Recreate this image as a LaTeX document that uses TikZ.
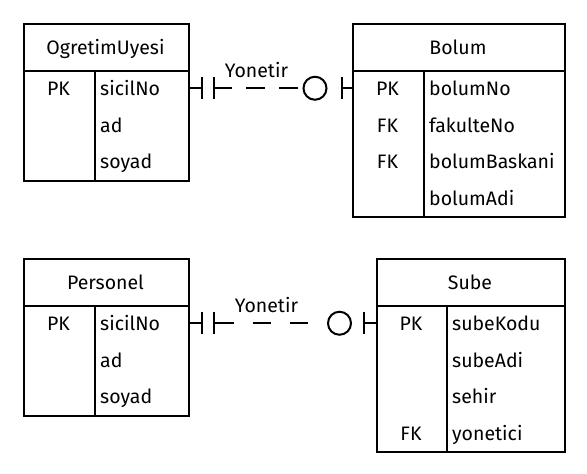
\documentclass[tikz,border=0pt]{standalone}
\usepackage{fontspec}
\setmainfont{Fira Sans}
\begin{document}
\begin{tikzpicture}[x=1pt,y=-1pt,font=\fontsize{19.5}{23}\selectfont,
  cell/.style={draw,line width=2pt,inner sep=0pt,anchor=north west},
  ttl/.style={inner sep=0pt,anchor=base},
  keytxt/.style={inner sep=0pt,anchor=base},
  attr/.style={inner sep=0pt,anchor=base west},
  conn/.style={line width=2pt},
  ring/.style={circle,draw,line width=2pt,minimum size=23pt,inner sep=0pt},
  lbl/.style={inner sep=0pt}]
\useasboundingbox (0,0) rectangle (587,474);
% ---------- OgretimUyesi
\node[cell,minimum width=165pt,minimum height=47pt] (ouH) at (23,23) {};
\node[cell,minimum width=71pt,minimum height=109.5pt] (ouK) at (23,70) {};
\node[cell,minimum width=94pt,minimum height=109.5pt] (ouF) at (94,70) {};
\node[ttl] (ouT) at (105.5,54) {OgretimUyesi};
\coordinate (ouR1) at (23,88.25);
\node[keytxt] (ouK1) at (58.5,95.5) {PK};
\node[attr] (ouA1) at (100,95.5) {sicilNo};
\node[attr] (ouA2) at (100,132) {ad};
\node[attr] (ouA3) at (100,168.5) {soyad};
% ---------- Bolum
\node[cell,minimum width=212pt,minimum height=47pt] (boH) at (352,23) {};
\node[cell,minimum width=71pt,minimum height=146pt] (boK) at (352,70) {};
\node[cell,minimum width=141pt,minimum height=146pt] (boF) at (423,70) {};
\node[ttl] (boT) at (458,54) {Bolum};
\coordinate (boR1) at (352,88.25);
\node[keytxt] (boK1) at (387.5,95.5) {PK};
\node[keytxt] (boK2) at (387.5,132) {FK};
\node[keytxt] (boK3) at (387.5,168.5) {FK};
\node[attr] (boA1) at (429,95.5) {bolumNo};
\node[attr] (boA2) at (429,132) {fakulteNo};
\node[attr] (boA3) at (429,168.5) {bolumBaskani};
\node[attr] (boA4) at (429,205) {bolumAdi};
% ---------- Personel
\node[cell,minimum width=165pt,minimum height=47pt] (peH) at (23,258) {};
\node[cell,minimum width=71pt,minimum height=109.5pt] (peK) at (23,305) {};
\node[cell,minimum width=94pt,minimum height=109.5pt] (peF) at (94,305) {};
\node[ttl] (peT) at (105.5,289) {Personel};
\coordinate (peR1) at (23,323.25);
\node[keytxt] (peK1) at (58.5,330.5) {PK};
\node[attr] (peA1) at (100,330.5) {sicilNo};
\node[attr] (peA2) at (100,367) {ad};
\node[attr] (peA3) at (100,403.5) {soyad};
% ---------- Sube
\node[cell,minimum width=188pt,minimum height=47pt] (suH) at (376,258) {};
\node[cell,minimum width=70pt,minimum height=146pt] (suK) at (376,305) {};
\node[cell,minimum width=118pt,minimum height=146pt] (suF) at (446,305) {};
\node[ttl] (suT) at (470,289) {Sube};
\coordinate (suR1) at (376,323.25);
\node[keytxt] (suK1) at (411,330.5) {PK};
\node[keytxt] (suK4) at (411,440.5) {FK};
\node[attr] (suA1) at (452,330.5) {subeKodu};
\node[attr] (suA2) at (452,367) {subeAdi};
\node[attr] (suA3) at (452,403.5) {sehir};
\node[attr] (suA4) at (452,440.5) {yonetici};
% ---------- connector 1
\coordinate (L1) at (ouH.east |- ouR1);
\coordinate (R1) at (boH.west |- boR1);
\node[ring] (ring1) at ([xshift=-37pt]R1) {};
\coordinate (b1a) at ([xshift=12pt]L1);
\coordinate (b1b) at ([xshift=23.5pt]L1);
\coordinate (d1s) at ([xshift=42pt]L1);
\coordinate (b1c) at ([xshift=-10.5pt]R1);
\draw[conn] (L1) -- (b1a);
\draw[conn] (b1a) +(0,-11) -- +(0,11);
\draw[conn] (b1b) +(0,-11) -- +(0,11);
\draw[conn] (b1b) -- (d1s);
\draw[conn,dash pattern=on 19pt off 14pt,dash phase=19pt] (d1s) -- (ring1.west);
\draw[conn] (b1c) -- (R1);
\draw[conn] (b1c) +(0,-11) -- +(0,11);
\node[lbl] (y1) at (256.5,70.5) {Yonetir};
% ---------- connector 2
\coordinate (L2) at (peH.east |- peR1);
\coordinate (R2) at (suH.west |- suR1);
\node[ring] (ring2) at ([xshift=-36.5pt]R2) {};
\coordinate (b2a) at ([xshift=12pt]L2);
\coordinate (b2b) at ([xshift=23.5pt]L2);
\coordinate (d2s) at ([xshift=44pt]L2);
\coordinate (d2e) at ([xshift=-4pt]ring2.west);
\coordinate (b2c) at ([xshift=-12.5pt]R2);
\draw[conn] (L2) -- (b2a);
\draw[conn] (b2a) +(0,-11) -- +(0,11);
\draw[conn] (b2b) +(0,-11) -- +(0,11);
\draw[conn] (b2b) -- (d2s);
\draw[conn,dash pattern=on 18.5pt off 18.5pt,dash phase=18.5pt] (d2s) -- (d2e);
\draw[conn] (b2c) -- (R2);
\draw[conn] (b2c) +(0,-11) -- +(0,11);
\node[lbl] (y2) at (266.5,305.5) {Yonetir};
\end{tikzpicture}
\end{document}
